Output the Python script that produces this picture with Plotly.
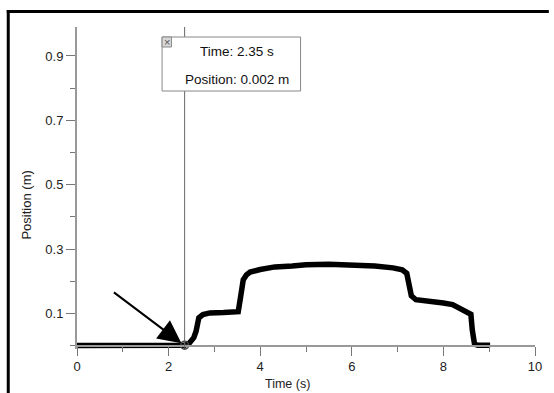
import plotly.graph_objects as go

# ---- data ----
time_s = [0.0, 0.5, 1.0, 1.5, 2.0, 2.35, 2.45, 2.55, 2.6, 2.66, 2.75, 2.9, 3.2, 3.52,
          3.57, 3.63, 3.7, 3.78, 4.0, 4.32, 4.7, 5.0, 5.5, 6.0, 6.5, 6.9, 7.1,
          7.2, 7.25, 7.3, 7.4, 7.7, 8.0, 8.2, 8.45, 8.6, 8.63, 8.68, 8.75, 8.9, 9.02]
position_m = [0.001, 0.001, 0.002, 0.001, 0.001, 0.002, 0.008, 0.025, 0.045, 0.087, 0.097,
              0.102, 0.103, 0.106, 0.15, 0.205, 0.22, 0.229, 0.237, 0.245, 0.248, 0.252,
              0.253, 0.251, 0.248, 0.242, 0.236, 0.225, 0.19, 0.155, 0.143, 0.14, 0.133,
              0.128, 0.108, 0.098, 0.05, 0.005, 0.002, 0.004, 0.002]
x_ticks = [0, 2, 4, 6, 8, 10]
x_tick_labels = ["0", "2", "4", "6", "8", "10"]
y_ticks = [0.1, 0.3, 0.5, 0.7, 0.9]
y_tick_labels = ["0.1", "0.3", "0.5", "0.7", "0.9"]
cursor_time = 2.35
cursor_pos = 0.002

W, H = 554, 393
L, R, T, B = 77, 14, 27, 44
PW, PH = W - L - R, H - T - B


def fx(px):
    return (px - L) / PW


def fy(py):
    return (H - B - py) / PH


FONT = "Liberation Sans, Arial, sans-serif"

fig = go.Figure()
fig.add_trace(go.Scatter(x=time_s, y=position_m, mode="lines",
                         line=dict(color="black", width=5.5), hoverinfo="skip"))
fig.add_trace(go.Scatter(x=[cursor_time], y=[cursor_pos], mode="markers",
                         marker=dict(symbol="circle-cross-open", size=8,
                                     color="#444", line=dict(width=1.5)),
                         cliponaxis=False, hoverinfo="skip"))

shapes = [
    # cursor line
    dict(type="line", xref="x", yref="y", x0=cursor_time, x1=cursor_time, y0=-0.004, y1=0.99,
         line=dict(color="#666", width=1), layer="above"),
    # tooltip box
    dict(type="rect", xref="paper", yref="paper", x0=fx(163), x1=fx(303), y0=fy(91), y1=fy(37),
         fillcolor="white", line=dict(color="#888", width=1), layer="above"),
    # close button
    dict(type="rect", xref="paper", yref="paper", x0=fx(163), x1=fx(172.5), y0=fy(47), y1=fy(37),
         fillcolor="#d8d8d8", line=dict(color="#888", width=1), layer="above"),
    # frame top and left
    dict(type="line", xref="paper", yref="paper", x0=fx(6), x1=fx(554), y0=fy(11.5), y1=fy(11.5),
         line=dict(color="black", width=3), layer="above"),
    dict(type="line", xref="paper", yref="paper", x0=fx(7.5), x1=fx(7.5), y0=fy(10), y1=fy(393),
         line=dict(color="black", width=3), layer="above"),
]

annotations = [
    dict(xref="paper", yref="paper", x=fx(239), y=fy(51), text="Time: 2.35 s", showarrow=False,
         font=dict(family=FONT, size=13.5, color="#111"), xanchor="center", yanchor="middle"),
    dict(xref="paper", yref="paper", x=fx(238.5), y=fy(79), text="Position: 0.002 m", showarrow=False,
         font=dict(family=FONT, size=13.5, color="#111"), xanchor="center", yanchor="middle"),
    dict(xref="paper", yref="paper", x=fx(167.8), y=fy(42), text="×", showarrow=False,
         font=dict(family=FONT, size=11, color="#555"), xanchor="center", yanchor="middle"),
    dict(xref="paper", yref="paper", x=fx(290), y=fy(384), text="Time (s)", showarrow=False,
         font=dict(family=FONT, size=12.5, color="#222"), xanchor="center", yanchor="middle"),
    dict(xref="paper", yref="paper", x=fx(25), y=fy(205), text="Position (m)", showarrow=False,
         textangle=-90, font=dict(family=FONT, size=13, color="#222"),
         xanchor="center", yanchor="middle"),
    # arrow
    dict(xref="x", yref="y", x=cursor_time - 0.07, y=0.008, ax=-69, ay=-52, showarrow=True,
         arrowhead=2, arrowsize=2.3, arrowwidth=2, arrowcolor="black", text=""),
]

fig.update_layout(
    width=W, height=H,
    margin=dict(l=L, r=R, t=T, b=B, pad=0),
    paper_bgcolor="white", plot_bgcolor="white",
    showlegend=False,
    font=dict(family=FONT, size=13, color="#222"),
    shapes=shapes, annotations=annotations,
    xaxis=dict(range=[0, 10], tickvals=x_ticks, ticktext=x_tick_labels,
               showgrid=False, zeroline=False, showline=True, linecolor="#999", linewidth=2,
               ticks="outside", ticklen=9, tickcolor="#777", tickwidth=1,
               anchor="free", position=0.01, fixedrange=True,
               minor=dict(dtick=1, tick0=0, ticks="outside", ticklen=5, tickcolor="#777"),
               tickfont=dict(family=FONT, size=13, color="#222")),
    yaxis=dict(range=[-0.01, 0.99], tickvals=y_ticks, ticktext=y_tick_labels,
               showgrid=False, zeroline=False, showline=True, linecolor="#999", linewidth=2,
               ticks="outside", ticklen=9, tickcolor="#777", tickwidth=1, fixedrange=True,
               minor=dict(dtick=0.2, tick0=0, ticks="outside", ticklen=5, tickcolor="#777"),
               tickfont=dict(family=FONT, size=13, color="#222")),
)

fig.write_html("out.html", config={"displayModeBar": False},
               post_script="document.body.style.margin='0';document.body.style.overflow='hidden';")
